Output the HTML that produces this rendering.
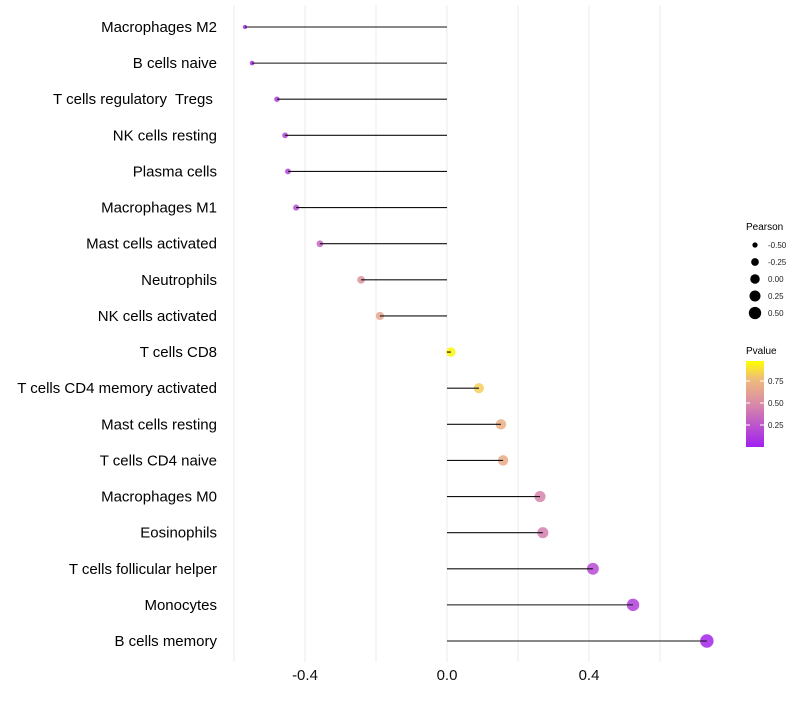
<!DOCTYPE html>
<html><head><meta charset="utf-8"><style>
body{margin:0;background:#fff;font-family:"Liberation Sans",sans-serif;}
svg text{font-family:"Liberation Sans",sans-serif;}
</style></head><body>
<svg id="chart" width="800" height="700" viewBox="0 0 800 700" xmlns="http://www.w3.org/2000/svg">
<defs><linearGradient id="pgrad" x1="0" y1="1" x2="0" y2="0">
<stop offset="0" stop-color="#a020f0"/><stop offset="0.5" stop-color="#d98aa8"/><stop offset="0.8" stop-color="#f0be78"/><stop offset="1" stop-color="#ffff00"/></linearGradient></defs>
<g id="grid"></g>
<g id="marks"></g>
<g id="ylabels"></g>
<g id="xlabels"></g>
<g id="sizeLegend">
<text x="746" y="230" font-size="10" fill="#000">Pearson</text>
</g>
<g>
<text x="746" y="354" font-size="10" fill="#000">Pvalue</text>
<rect x="746" y="361" width="18" height="86" fill="url(#pgrad)"/>
<line x1="746" x2="750" y1="381" y2="381" stroke="#fff"/><line x1="760" x2="764" y1="381" y2="381" stroke="#fff"/>
<line x1="746" x2="750" y1="403" y2="403" stroke="#fff"/><line x1="760" x2="764" y1="403" y2="403" stroke="#fff"/>
<line x1="746" x2="750" y1="425" y2="425" stroke="#fff"/><line x1="760" x2="764" y1="425" y2="425" stroke="#fff"/>
<text x="768" y="384" font-size="8" fill="#222">0.75</text>
<text x="768" y="406" font-size="8" fill="#222">0.50</text>
<text x="768" y="428" font-size="8" fill="#222">0.25</text>
</g>
</svg>
<script>
const categories=["Macrophages M2","B cells naive","T cells regulatory  Tregs ","NK cells resting","Plasma cells","Macrophages M1","Mast cells activated","Neutrophils","NK cells activated","T cells CD8","T cells CD4 memory activated","Mast cells resting","T cells CD4 naive","Macrophages M0","Eosinophils","T cells follicular helper","Monocytes","B cells memory"];
const pearson=[-0.569,-0.549,-0.479,-0.456,-0.448,-0.425,-0.358,-0.242,-0.189,0.011,0.09,0.152,0.158,0.262,0.270,0.411,0.524,0.732];
const pvalues=[0.04,0.06,0.14,0.16,0.17,0.2,0.32,0.55,0.66,0.97,0.85,0.72,0.7,0.47,0.45,0.2,0.15,0.03];
const xTicks=[-0.4,0.0,0.4];
const xTickLabels=["-0.4","0.0","0.4"];
const gridVals=[-0.6,-0.4,-0.2,0,0.2,0.4,0.6];
const legendSizes=[-0.5,-0.25,0,0.25,0.5];
const legendLabels=["-0.50","-0.25","0.00","0.25","0.50"];

const NS="http://www.w3.org/2000/svg";
const xS=v=>447+v*355;
const yS=i=>27+i*(641-27)/(categories.length-1);
const dia=v=>Math.sqrt(Math.max(9,90+125*v));
function lerp(a,b,t){return a+(b-a)*t;}
const stops=[[0,[160,32,240]],[0.5,[217,138,168]],[0.8,[240,190,120]],[1,[255,255,0]]];
function col(p){let t=Math.min(1,Math.max(0,p));for(let k=0;k<stops.length-1;k++){const[a,ca]=stops[k],[b,cb]=stops[k+1];if(t<=b){const u=(t-a)/(b-a);return `rgb(${ca.map((c,j)=>Math.round(lerp(c,cb[j],u))).join(',')})`;}}return 'rgb(255,255,0)';}
function mk(tag,attrs,parent){const e=document.createElementNS(NS,tag);for(const k in attrs)e.setAttribute(k,attrs[k]);parent.appendChild(e);return e;}
const grid=document.getElementById('grid'),marks=document.getElementById('marks'),yl=document.getElementById('ylabels'),xl=document.getElementById('xlabels');
gridVals.forEach(v=>{const l=mk('line',{x1:xS(v),x2:xS(v),y1:5,y2:662,stroke:'#ebebeb','stroke-width':1},grid);

});
categories.forEach((c,i)=>{const y=yS(i);
const pt=mk('circle',{cx:xS(pearson[i]),cy:y,r:dia(pearson[i])/2,fill:col(pvalues[i]),'fill-opacity':0.85},marks);


const seg=mk('line',{x1:xS(0),x2:xS(pearson[i]),y1:y,y2:y,stroke:'#111','stroke-width':1.1},marks);


const t=mk('text',{x:217,y:y+5,'text-anchor':'end','font-size':15,fill:'#000',style:'white-space:pre'},yl);t.textContent=c;

});
xTicks.forEach((v,i)=>{const t=mk('text',{x:xS(v),y:680,'text-anchor':'middle','font-size':15,fill:'#111'},xl);t.textContent=xTickLabels[i];

});
const sl=document.getElementById('sizeLegend');
legendSizes.forEach((v,i)=>{const y=245+i*17;
const c=mk('circle',{cx:755,cy:y,r:dia(v)/2,fill:'#000'},sl);


const t=mk('text',{x:768,y:y+3,'font-size':8,fill:'#222'},sl);t.textContent=legendLabels[i];

});
</script>
</body></html>
